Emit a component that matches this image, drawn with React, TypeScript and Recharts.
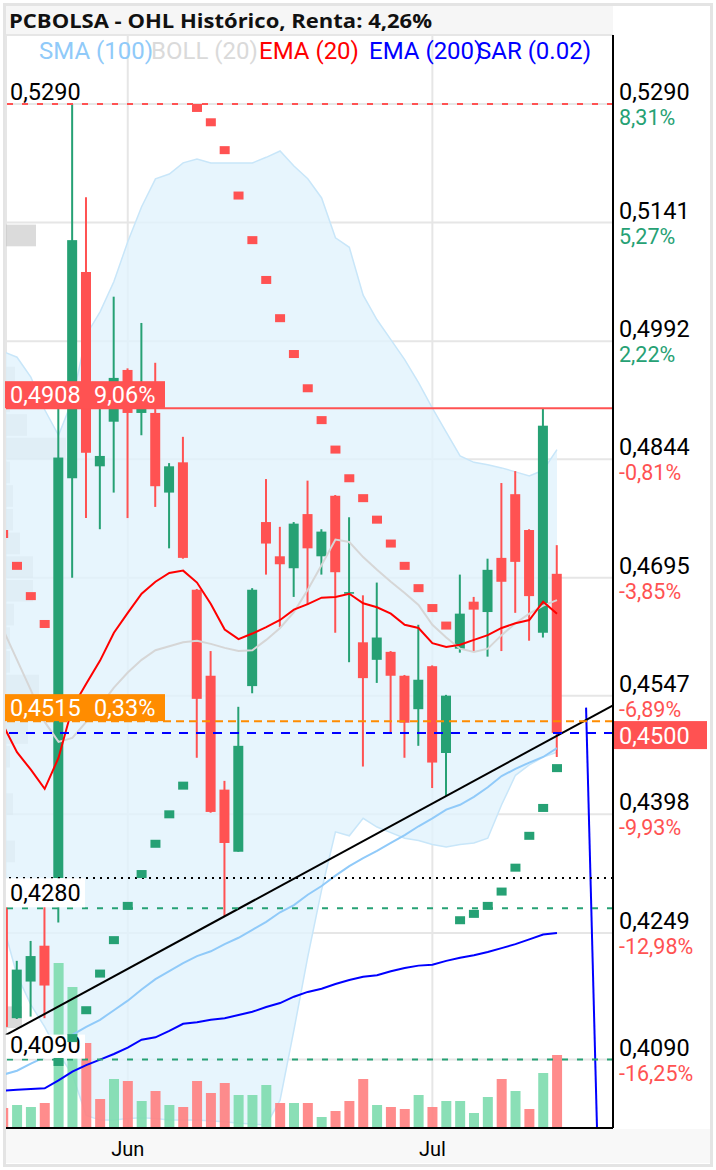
import React from "react";
import {
  ComposedChart,
  XAxis,
  YAxis,
  CartesianGrid,
  Area,
  Bar,
  Line,
  Scatter,
  ReferenceLine,
  ReferenceArea,
  Cell,
} from "recharts";

const GREEN = "#26a174";
const RED = "#ff5252";
const VGREEN = "#7ddcae";
const VRED = "#ff8080";
const ORANGE = "#ff8c00";
const FONT = "Roboto, 'Noto Sans', sans-serif";

// ---- session index (-1 = partly hidden first session) ----
const idx = [-1, 0, 1, 2, 3, 4, 5, 6, 7, 8, 9, 10, 11, 12, 13, 14, 15, 16, 17, 18, 19, 20, 21, 22, 23, 24, 25, 26, 27, 28, 29, 30, 31, 32, 33, 34, 35, 36, 37, 38, 39];

const opens = [0.4291, 0.4142, 0.4188, 0.4233, 0.4318, 0.482, 0.5079, 0.4835, 0.4891, 0.4956, 0.4902, 0.4902, 0.4802, 0.484, 0.468, 0.4572, 0.4429, 0.4351, 0.4559, 0.4765, 0.4722, 0.4707, 0.4775, 0.4722, 0.4798, 0.4675, 0.4614, 0.4592, 0.4602, 0.4572, 0.453, 0.4584, 0.4475, 0.4606, 0.4665, 0.4652, 0.472, 0.48, 0.4755, 0.4626, 0.47];
const highs = [0.4297, 0.4214, 0.4239, 0.4291, 0.4918, 0.529, 0.5173, 0.4925, 0.5048, 0.4958, 0.5015, 0.4965, 0.4839, 0.4872, 0.4681, 0.4603, 0.444, 0.4533, 0.4682, 0.4819, 0.4759, 0.4765, 0.4817, 0.4756, 0.4799, 0.4771, 0.4673, 0.4689, 0.4603, 0.4573, 0.4636, 0.4585, 0.4548, 0.4699, 0.4671, 0.4719, 0.4814, 0.4829, 0.4756, 0.4908, 0.4736];
const lows = [0.4127, 0.4141, 0.4144, 0.4142, 0.4262, 0.4695, 0.477, 0.4756, 0.4802, 0.477, 0.4874, 0.4784, 0.4732, 0.4719, 0.4469, 0.44, 0.427, 0.4351, 0.455, 0.4699, 0.4633, 0.4671, 0.4662, 0.4699, 0.4626, 0.4589, 0.4458, 0.4563, 0.4499, 0.4469, 0.4484, 0.4431, 0.4421, 0.4601, 0.4603, 0.4596, 0.4603, 0.4651, 0.4616, 0.462, 0.447];
const closes = [0.4131, 0.4203, 0.422, 0.4183, 0.4846, 0.5119, 0.4852, 0.4848, 0.4946, 0.4902, 0.4918, 0.481, 0.4835, 0.472, 0.4543, 0.4401, 0.4362, 0.4484, 0.468, 0.4738, 0.4712, 0.4763, 0.4732, 0.4753, 0.4702, 0.4677, 0.4569, 0.462, 0.4572, 0.4513, 0.4567, 0.4463, 0.4547, 0.465, 0.4655, 0.4705, 0.469, 0.4715, 0.4672, 0.4886, 0.45];
const volumes = [200, 230, 210, 250, 1650, 1410, 850, 290, 490, 470, 270, 370, 230, 210, 470, 350, 450, 330, 330, 430, 250, 250, 250, 110, 170, 270, 490, 230, 210, 190, 330, 210, 270, 270, 150, 310, 490, 370, 190, 550, 730];

const ema20 = [0.451, 0.4476, 0.4454, 0.443, 0.4469, 0.4532, 0.4562, 0.4591, 0.4626, 0.4651, 0.4675, 0.469, 0.4701, 0.4704, 0.4689, 0.4662, 0.463, 0.4618, 0.4625, 0.4633, 0.4642, 0.4655, 0.4662, 0.467, 0.4671, 0.4675, 0.4663, 0.4658, 0.465, 0.4636, 0.4632, 0.4613, 0.4608, 0.4611, 0.4617, 0.4623, 0.4632, 0.4638, 0.4642, 0.4665, 0.465];
const ema200 = [0.4051, 0.4052, 0.4053, 0.4054, 0.4064, 0.4075, 0.4083, 0.409, 0.4097, 0.4105, 0.4115, 0.4118, 0.4126, 0.4135, 0.4137, 0.414, 0.4142, 0.4146, 0.415, 0.4156, 0.4161, 0.4169, 0.4175, 0.4179, 0.4185, 0.419, 0.4194, 0.4196, 0.4201, 0.4205, 0.4208, 0.4209, 0.4214, 0.4218, 0.4221, 0.4225, 0.423, 0.4235, 0.4241, 0.4247, 0.4249];
const sma100 = [0.4071, 0.4076, 0.4085, 0.4093, 0.4103, 0.4121, 0.4131, 0.414, 0.4152, 0.4164, 0.4178, 0.4191, 0.4201, 0.4211, 0.422, 0.4226, 0.4235, 0.4243, 0.4253, 0.4263, 0.4275, 0.4284, 0.4297, 0.4308, 0.4321, 0.4333, 0.4343, 0.4352, 0.4362, 0.4372, 0.4383, 0.4393, 0.4404, 0.441, 0.442, 0.4432, 0.4446, 0.4455, 0.4463, 0.447, 0.4481];
const bollUpper = [0.4979, 0.4972, 0.4947, 0.4906, 0.4874, 0.4918, 0.5, 0.5029, 0.5067, 0.5117, 0.5161, 0.5196, 0.5202, 0.5216, 0.5221, 0.5216, 0.5216, 0.5216, 0.5216, 0.5223, 0.5231, 0.5212, 0.5196, 0.5172, 0.5122, 0.511, 0.505, 0.5019, 0.4994, 0.4969, 0.494, 0.4908, 0.4878, 0.4848, 0.484, 0.4837, 0.4833, 0.4828, 0.4823, 0.483, 0.4856];
const bollMid = [0.463, 0.4592, 0.4554, 0.4514, 0.4489, 0.4494, 0.4514, 0.4534, 0.4557, 0.4576, 0.4592, 0.4604, 0.4609, 0.4614, 0.4616, 0.4612, 0.4607, 0.4603, 0.4604, 0.4617, 0.4632, 0.4652, 0.468, 0.4711, 0.4743, 0.474, 0.4721, 0.4705, 0.469, 0.4676, 0.4661, 0.4636, 0.462, 0.4606, 0.4602, 0.4606, 0.4623, 0.4638, 0.465, 0.466, 0.4667];
const bollLower = [0.4259, 0.4196, 0.4159, 0.4131, 0.4098, 0.4071, 0.402, 0.4014, 0.4014, 0.4016, 0.4017, 0.4016, 0.4014, 0.4014, 0.4014, 0.4013, 0.4012, 0.401, 0.4009, 0.4008, 0.4039, 0.4127, 0.4219, 0.4303, 0.4376, 0.4371, 0.4393, 0.4382, 0.4375, 0.4368, 0.4365, 0.436, 0.4357, 0.436, 0.4362, 0.4368, 0.441, 0.4447, 0.446, 0.447, 0.4476];
const sar = [0.475, 0.471, 0.4672, 0.4637, 0.4087, 0.4117, 0.4152, 0.4198, 0.424, 0.4283, 0.4323, 0.4361, 0.4398, 0.4434, 0.5285, 0.5267, 0.5232, 0.5175, 0.5119, 0.5069, 0.5021, 0.4976, 0.4933, 0.4893, 0.4856, 0.482, 0.4795, 0.4768, 0.4738, 0.471, 0.4682, 0.4657, 0.4635, 0.4265, 0.4273, 0.4283, 0.4301, 0.4331, 0.4371, 0.4406, 0.4456];

// projection line at the right edge
const projection = [
  { i: 41.1, v: 0.4532 },
  { i: 42.0, v: 0.393 },
];

// trend line anchors (lows it rests on)
const trendAnchors = [
  { i: 15, v: 0.427 },
  { i: 31, v: 0.4421 },
];

// volume by price (row top price, volume)
const vpTop = [0.5141, 0.49625, 0.49328, 0.4903, 0.48733, 0.48435, 0.48138, 0.4784, 0.47543, 0.47245, 0.46948, 0.4665, 0.46353, 0.46055, 0.45758, 0.4546, 0.45163, 0.44865, 0.4427, 0.43675, 0.41593];
const vpVol = [30, 9, 4, 21, 60, 4, 7, 7, 14, 27, 27, 8, 4, 4, 33, 12, 22, 4, 7, 9, 16];
const VP_ROW = 0.002975;
const VP_FULL = 607; // volume that would fill the whole plot width

// axis ticks
const priceTicks = [0.529, 0.5141, 0.4992, 0.4844, 0.4695, 0.4547, 0.4398, 0.4249, 0.409];
const priceTickPct = ["8,31%", "5,27%", "2,22%", "-0,81%", "-3,85%", "-6,89%", "-9,93%", "-12,98%", "-16,25%"];
const monthTicks = [8, 30];
const monthLabels = ["Jun", "Jul"];

// levels
const maxLevel = 0.529;
const resistLevel = 0.4908;
const resistPct = "9,06%";
const entryLevel = 0.4515;
const entryPct = "0,33%";
const lastPrice = 0.45;
const dottedLevel = 0.4318;
const support1 = 0.428;
const support2 = 0.409;

const X_MIN = -0.794;
const X_MAX = 43.045;
const Y_MIN = 0.40041;
const Y_MAX = 0.53766;

const data = idx.map((i, k) => ({
  i,
  open: opens[k],
  high: highs[k],
  low: lows[k],
  close: closes[k],
  vol: volumes[k],
  ema20: ema20[k],
  ema200: ema200[k],
  sma100: sma100[k],
  bu: bollUpper[k],
  bm: bollMid[k],
  bl: bollLower[k],
  sar: sar[k],
}));

const slope = (trendAnchors[1].v - trendAnchors[0].v) / (trendAnchors[1].i - trendAnchors[0].i);
const trendSegment = [
  { x: X_MIN, y: trendAnchors[0].v + (X_MIN - trendAnchors[0].i) * slope },
  { x: X_MAX, y: trendAnchors[0].v + (X_MAX - trendAnchors[0].i) * slope },
];

const fmt = (v: number) => v.toFixed(4).replace(".", ",");

const CandleShape = (p: any) => {
  const { x, y, width, height, payload } = p;
  if (x == null || y == null) return null;
  const top = Math.min(y, y + height);
  const h = Math.abs(height);
  const span = payload.high - payload.low;
  const ppu = span > 0 ? h / span : 0;
  const yO = top + (payload.high - payload.open) * ppu;
  const yC = top + (payload.high - payload.close) * ppu;
  const up = payload.close >= payload.open;
  const color = up ? GREEN : RED;
  const cx = x + width / 2;
  const bTop = Math.min(yO, yC);
  const bH = Math.max(1.5, Math.abs(yO - yC));
  return (
    <g>
      <line x1={cx} x2={cx} y1={top} y2={top + h} stroke={color} strokeWidth={2} />
      <rect x={x} y={bTop} width={width} height={bH} fill={color} />
    </g>
  );
};

const SarShape = (p: any) => {
  const { cx, cy, payload } = p;
  if (cx == null || cy == null) return null;
  const below = payload.sar < payload.close;
  return <rect x={cx - 5} y={cy - 4} width={10} height={8} fill={below ? GREEN : RED} />;
};

const PriceTick = (props: any) => {
  const { x, y, payload } = props;
  const k = priceTicks.indexOf(payload.value);
  const pct = priceTickPct[k] || "";
  const neg = pct.startsWith("-");
  return (
    <g>
      <text x={x} y={y - 4} fontSize={23.5} fill="#000" fontFamily={FONT} textAnchor="start">
        {fmt(payload.value)}
      </text>
      <text x={x} y={y + 21} fontSize={21.5} fill={neg ? RED : GREEN} fontFamily={FONT} textAnchor="start">
        {pct}
      </text>
    </g>
  );
};

const MonthTick = (props: any) => {
  const { x, y, payload } = props;
  const k = monthTicks.indexOf(payload.value);
  return (
    <text x={x} y={y + 28} fontSize={20} fill="#000" fontFamily={FONT} textAnchor="middle">
      {monthLabels[k]}
    </text>
  );
};

const boxLabel = (t1: string, t2: string, bg: string) => (props: any) => {
  const { x, y } = props.viewBox;
  return (
    <g>
      <rect x={x - 1} y={y - 27} width={160} height={27} fill={bg} />
      <text x={x + 4} y={y - 5} fontSize={23.5} fill="#fff" fontFamily={FONT}>{t1}</text>
      <text x={x + 88} y={y - 5} fontSize={23.5} fill="#fff" fontFamily={FONT}>{t2}</text>
    </g>
  );
};

const whiteLabel = (t: string, h: number) => (props: any) => {
  const { x, y } = props.viewBox;
  return (
    <g>
      <rect x={x} y={y - h - 1} width={79} height={h} fill="#fff" />
      <text x={x + 4} y={y - 7} fontSize={23.5} fill="#000" fontFamily={FONT}>{t}</text>
    </g>
  );
};

const plainLabel = (t: string) => (props: any) => {
  const { x, y } = props.viewBox;
  return (
    <text x={x + 4} y={y - 4} fontSize={23.5} fill="#000" fontFamily={FONT}>{t}</text>
  );
};

const rightLabel = (t: string) => (props: any) => {
  const { x, y, width } = props.viewBox;
  return (
    <g>
      <rect x={x + width} y={y - 12} width={94} height={28} fill={RED} />
      <text x={x + width + 6} y={y + 11} fontSize={23.5} fill="#fff" fontFamily={FONT}>{t}</text>
    </g>
  );
};

const legendItems = [
  { t: "SMA (100)", x: 39, c: "#90caf9" },
  { t: "BOLL (20)", x: 151, c: "#dadada" },
  { t: "EMA (20)", x: 259, c: "#ff0000" },
  { t: "EMA (200)", x: 369, c: "#0000ff" },
  { t: "SAR (0.02)", x: 477, c: "#0000ff" },
];

export default function App() {
  const vpUnit = (X_MAX - X_MIN) / VP_FULL;
  return (
    <div style={{ position: "absolute", left: 0, top: 0, width: 716, height: 1170, background: "#fff", overflow: "hidden" }}>
      <div style={{ position: "absolute", left: 6, top: 6, width: 607, height: 29, background: "#f6f6f6" }} />
      <div style={{ position: "absolute", left: 6, top: 1129, width: 704, height: 34, background: "#f8f8f8" }} />
      <div style={{ position: "absolute", left: 3, top: 3, width: 710, height: 1164, border: "3px solid #e4e4e4", boxSizing: "border-box" }} />
      <div style={{ position: "absolute", left: 0, top: 0 }}>
        <ComposedChart width={716} height={1170} data={data} margin={{ top: 35, right: 5, bottom: 7, left: 6 }}>
          <XAxis
            xAxisId="main"
            dataKey="i"
            type="number"
            domain={[X_MIN, X_MAX]}
            allowDataOverflow
            ticks={monthTicks}
            interval={0}
            height={35}
            tickSize={0}
            tickMargin={0}
            tickLine={false}
            axisLine={{ stroke: "#000", strokeWidth: 2 }}
            tick={<MonthTick />}
          />
          <XAxis xAxisId="vol" dataKey="i" type="number" domain={[X_MIN, X_MAX]} allowDataOverflow hide />
          <YAxis
            yAxisId="price"
            orientation="right"
            type="number"
            domain={[Y_MIN, Y_MAX]}
            allowDataOverflow
            ticks={priceTicks}
            interval={0}
            width={98}
            tickSize={0}
            tickMargin={6}
            tickLine={false}
            axisLine={{ stroke: "#000", strokeWidth: 2 }}
            tick={<PriceTick />}
          />
          <YAxis yAxisId="vol" type="number" domain={[0, 10930]} allowDataOverflow hide />
          <CartesianGrid xAxisId="main" yAxisId="price" stroke="#e6e6e6" strokeWidth={2} />

          {vpTop.map((t, k) => (
            <ReferenceArea
              key={"vp" + k}
              xAxisId="main"
              yAxisId="price"
              x1={X_MIN}
              x2={X_MIN + vpVol[k] * vpUnit}
              y1={t - VP_ROW}
              y2={t - 0.00025}
              fill="#bdbdbd"
              fillOpacity={0.55}
              stroke="none"
            />
          ))}

          <Area
            xAxisId="main"
            yAxisId="price"
            type="linear"
            dataKey={(d: any) => [d.bl, d.bu]}
            stroke="#c8e6f9"
            strokeWidth={1.5}
            fill="#e1f2fc"
            fillOpacity={0.8}
            isAnimationActive={false}
            dot={false}
            activeDot={false}
          />

          <Bar xAxisId="vol" yAxisId="vol" dataKey="vol" barSize={10} isAnimationActive={false}>
            {data.map((d, k) => (
              <Cell key={"v" + k} fill={k === 0 || closes[k] < closes[k - 1] ? VRED : VGREEN} fillOpacity={0.9} />
            ))}
          </Bar>

          <Bar
            xAxisId="main"
            yAxisId="price"
            dataKey={(d: any) => [d.low, d.high]}
            barSize={10}
            shape={<CandleShape />}
            isAnimationActive={false}
          />

          <Line xAxisId="main" yAxisId="price" type="linear" dataKey="bm" stroke="#d6d6d6" strokeWidth={2} dot={false} isAnimationActive={false} />
          <Line xAxisId="main" yAxisId="price" type="linear" dataKey="sma100" stroke="#90caf9" strokeWidth={2} dot={false} isAnimationActive={false} />
          <Line xAxisId="main" yAxisId="price" type="linear" dataKey="ema200" stroke="#0000ff" strokeWidth={2} dot={false} isAnimationActive={false} />
          <Line xAxisId="main" yAxisId="price" type="linear" dataKey="ema20" stroke="#ff0000" strokeWidth={2} dot={false} isAnimationActive={false} />

          <Scatter xAxisId="main" yAxisId="price" dataKey="sar" shape={<SarShape />} isAnimationActive={false} />

          <Line
            xAxisId="main"
            yAxisId="price"
            data={projection}
            dataKey="v"
            type="linear"
            stroke="#0000ff"
            strokeWidth={2}
            dot={false}
            isAnimationActive={false}
          />

          <ReferenceLine xAxisId="main" yAxisId="price" segment={trendSegment} stroke="#000" strokeWidth={2} ifOverflow="visible" />

          <ReferenceLine xAxisId="main" yAxisId="price" y={dottedLevel} stroke="#000" strokeWidth={2} strokeDasharray="2 5" />
          <ReferenceLine xAxisId="main" yAxisId="price" y={maxLevel} stroke={RED} strokeWidth={2} strokeDasharray="6 9" label={plainLabel(fmt(maxLevel))} />
          <ReferenceLine xAxisId="main" yAxisId="price" y={support1} stroke={GREEN} strokeWidth={2} strokeDasharray="6 9" label={whiteLabel(fmt(support1), 29)} />
          <ReferenceLine xAxisId="main" yAxisId="price" y={support2} stroke={GREEN} strokeWidth={2} strokeDasharray="6 9" label={whiteLabel(fmt(support2), 24)} />
          <ReferenceLine xAxisId="main" yAxisId="price" y={resistLevel} stroke={RED} strokeWidth={2} label={boxLabel(fmt(resistLevel), resistPct, RED)} />
          <ReferenceLine xAxisId="main" yAxisId="price" y={entryLevel} stroke={ORANGE} strokeWidth={2} strokeDasharray="8 5" label={boxLabel(fmt(entryLevel), entryPct, ORANGE)} />
          <ReferenceLine xAxisId="main" yAxisId="price" y={lastPrice} stroke="#0000ff" strokeWidth={2} strokeDasharray="9 8" label={rightLabel(fmt(lastPrice))} />
        </ComposedChart>
      </div>
      <svg width={716} height={70} style={{ position: "absolute", left: 0, top: 0, pointerEvents: "none" }}>
        <text x={9} y={28} fontSize={19.5} fontWeight={700} fill="#111" fontFamily="'Open Sans', 'Noto Sans', sans-serif" textLength={423} lengthAdjust="spacingAndGlyphs">
          PCBOLSA - OHL Histórico, Renta: 4,26%
        </text>
        {legendItems.map((l) => (
          <text key={l.t} x={l.x} y={59} fontSize={24} fill={l.c} fontFamily={FONT}>
            {l.t}
          </text>
        ))}
      </svg>
    </div>
  );
}
